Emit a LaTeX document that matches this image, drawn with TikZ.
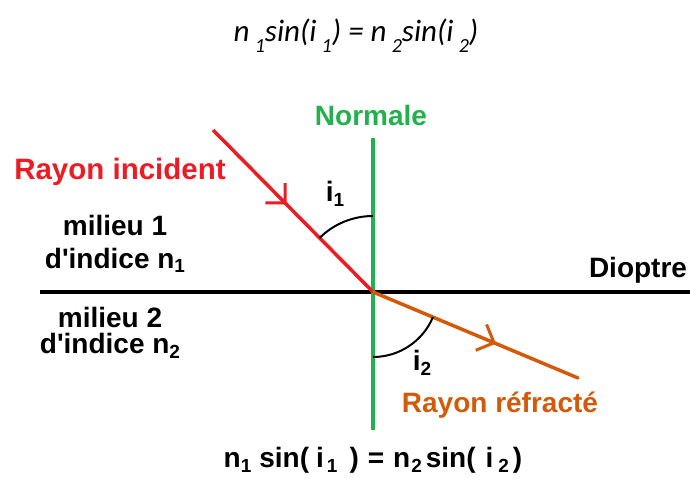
\documentclass[tikz,border=0pt]{standalone}
\usepackage{fontspec}
\setmainfont{Liberation Sans}
\newfontfamily\califont{Carlito}
\usetikzlibrary{arrows.meta,decorations.markings}
\definecolor{rred}{RGB}{237,28,36}
\definecolor{ngreen}{RGB}{34,177,76}
\definecolor{rorange}{RGB}{210,90,10}
\newcommand{\lblfont}{\fontsize{28}{30}\selectfont\bfseries}
\newcommand{\sbt}[1]{\raisebox{-5pt}{\fontsize{19}{19}\selectfont #1}}
\newcommand{\csb}[1]{\raisebox{-0.35em}{\fontsize{20}{20}\selectfont #1}}
\begin{document}
\begin{tikzpicture}[x=1pt,y=1pt,
  lbl/.style={font=\lblfont, anchor=base, inner sep=0pt},
  ray/.style={line width=3.5pt},
  angarc/.style={line width=2pt, black},
  midarrow/.style={postaction={decorate},
    decoration={markings, mark=at position #1 with {\arrow{Straight Barb[length=14pt,width=28pt,line width=3pt]}}}}
]
\useasboundingbox (0,0) rectangle (690,477);
% coordinates (pixel y -> 477 - y)
\coordinate (O) at (373,185);
\coordinate (A) at (213,347);
\coordinate (B) at (578,99);
\coordinate (N1) at (373,339);
\coordinate (N2) at (373,47);
\coordinate (D1) at (40,185);
\coordinate (D2) at (690,185);
% dioptre
\draw[line width=4pt, black] (D1) -- (D2);
% normale
\draw[line width=3.5pt, ngreen] (N1) -- (N2);
% rays
\draw[ray, rred, midarrow=0.46] (A) -- (O);
\draw[ray, rorange, midarrow=0.6, line cap=round] (O) -- (B);
% angle arcs
\draw[angarc] (O) ++(90:76) arc[start angle=90, end angle=134.6, radius=76];
\draw[angarc] (O) ++(270:65) arc[start angle=270, end angle=337.2, radius=65];
% labels
\node[lbl, text=ngreen] (normale) at (371,351) {Normale};
\node[lbl, text=rred, font=\fontsize{29.5}{32}\selectfont\bfseries] (incident) at (120,297) {Rayon incident};
\node[lbl] (m1) at (115,241) {milieu 1};
\node[lbl] (d1) at (115,209) {d\textquotesingle indice n\sbt{1}};
\node[lbl] (m2) at (110,150) {milieu 2};
\node[lbl] (d2) at (110,124) {d\textquotesingle indice n\sbt{2}};
\node[lbl] (dioptre) at (638,200) {Dioptre};
\node[lbl] (i1) at (335,275) {i\sbt{1}};
\node[lbl] (i2) at (422,107) {i\sbt{2}};
\node[lbl, text=rorange] (refracte) at (500,65) {Rayon réfracté};
\node[lbl] (loi) at (373,10) {n\sbt{1}\hspace{8pt}sin(\hspace{7pt}i\hspace{3pt}\sbt{1}\hspace{12pt})\hspace{9pt}=\hspace{9pt}n\hspace{1pt}\sbt{2}\hspace{4pt}sin(\hspace{10pt}i\hspace{5pt}\sbt{2}\hspace{4pt})};
\node[anchor=base, inner sep=0pt, font=\califont\itshape\fontsize{31}{34}\selectfont] (loitop) at (356,435) {n\,\csb{1}sin(i\,\csb{1}) = n\,\csb{2}sin(i\,\csb{2})};
\end{tikzpicture}
\end{document}
